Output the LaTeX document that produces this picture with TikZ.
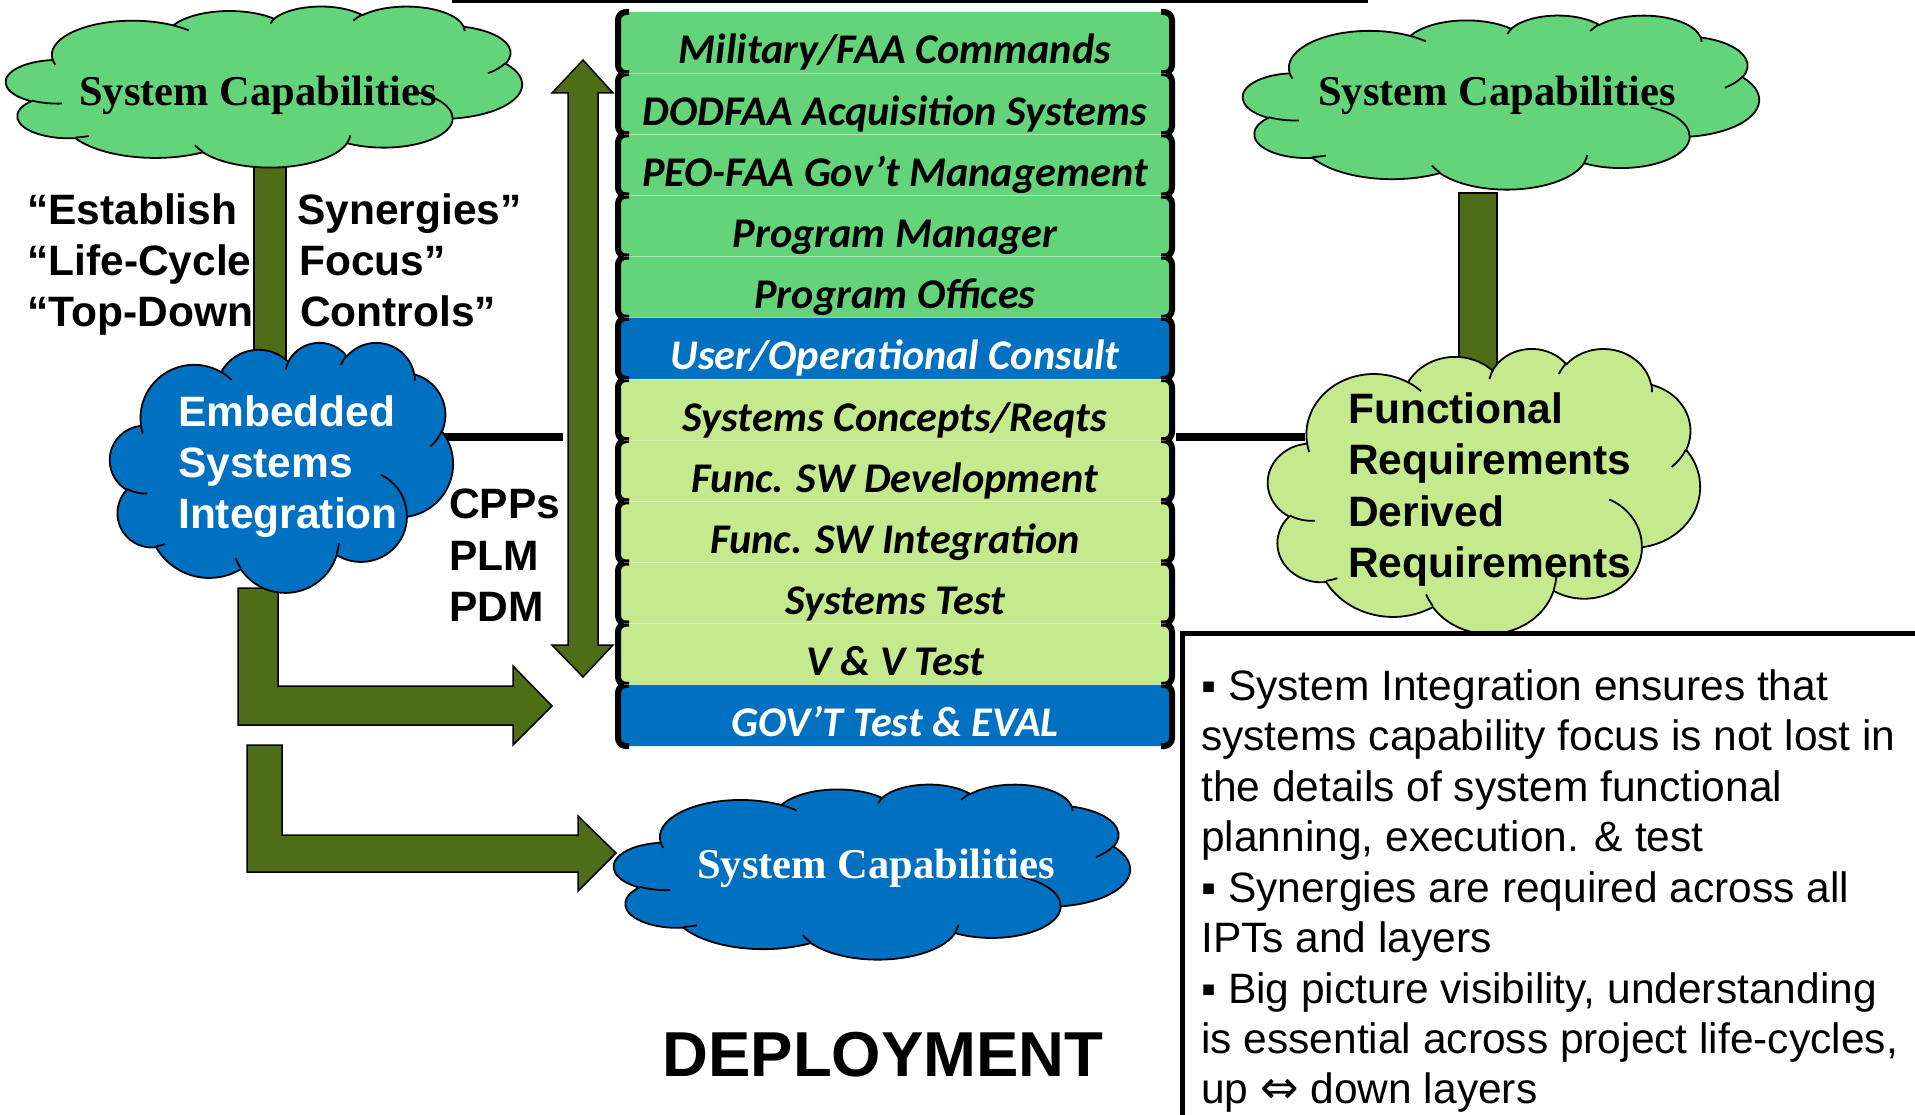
\documentclass[tikz,border=0pt]{standalone}
\usepackage{fontspec}
\setmainfont{Liberation Sans}
\newfontfamily\capfont{Liberation Serif}
\newfontfamily\rowfont{Carlito}
\newfontfamily\symfont{DejaVu Sans}

\definecolor{capgreen}{RGB}{100,212,122}
\definecolor{reqgreen}{RGB}{197,234,142}
\definecolor{sysblue}{RGB}{0,112,192}
\definecolor{olivearrow}{RGB}{79,108,22}

% Elliptic arc of the cloud outline: visual start angle / sweep -> parametric
\newcommand\ooprep[5]{%
  \pgfmathsetmacro\ooTmpS{atan2((#2)*sin(#4),(#3)*cos(#4))}%
  \pgfmathsetmacro\ooTmpE{atan2((#2)*sin((#4)+(#5)),(#3)*cos((#4)+(#5)))}%
  \pgfmathsetmacro\ooTmpD{mod((\ooTmpE)-(\ooTmpS)+720,360)}%
  \expandafter\xdef\csname ooS#1\endcsname{\ooTmpS}%
  \expandafter\xdef\csname ooD#1\endcsname{\ooTmpD}%
}
% outline puffs
\ooprep{a}{67.53}{91.90}{-190.4875}{123.7805}
\ooprep{b}{53.33}{72.67}{-144.1024}{89.9452}
\ooprep{c}{43.65}{59.45}{-145.8079}{99.7230}
\ooprep{d}{48.57}{65.95}{-130.9861}{117.2417}
\ooprep{e}{53.33}{72.73}{-78.7089}{109.0269}
\ooprep{f}{67.75}{92.20}{-46.2673}{130.2690}
\ooprep{g}{57.85}{78.67}{0.6250}{114.0333}
\ooprep{h}{67.52}{92.15}{22.4516}{115.1726}
\ooprep{i}{77.20}{105.43}{66.2426}{75.7110}
\ooprep{j}{43.60}{59.18}{-274.9421}{146.7356}
\ooprep{k}{43.45}{59.45}{-246.8285}{152.5189}
% inner puff edges
\ooprep{A}{43.45}{59.45}{86.7420}{26.4295}
\ooprep{B}{43.60}{59.18}{73.6105}{11.4475}
\ooprep{C}{67.52}{92.15}{137.6242}{14.0811}
\ooprep{D}{67.52}{92.15}{6.4533}{15.9984}
\ooprep{E}{57.85}{78.67}{-70.2924}{70.9174}
\ooprep{F}{53.33}{72.73}{30.3180}{27.7515}
\ooprep{G}{48.57}{65.95}{-13.7443}{14.8589}
\ooprep{H}{48.57}{65.95}{-149.1815}{18.1954}
\ooprep{I}{43.65}{59.45}{-163.4943}{17.6864}
\ooprep{J}{67.53}{91.90}{-66.7070}{12.3194}
\ooprep{K}{67.53}{91.90}{157.6544}{11.8605}

% cloud in a 432 x 432 frame, placed at (#2,#3) with size #4 x #5
\newcommand\drawcloud[6]{%
  \begin{scope}[shift={(#2,#3)}, xscale=#4/432, yscale=#5/432]
    \path[draw=black, line width=1.8, fill=#6, line join=round]
      (39.00,143.70)
      arc[start angle=\ooSa, delta angle=\ooDa, x radius=67.53, y radius=91.90]
      arc[start angle=\ooSb, delta angle=\ooDb, x radius=53.33, y radius=72.67]
      arc[start angle=\ooSc, delta angle=\ooDc, x radius=43.65, y radius=59.45]
      arc[start angle=\ooSd, delta angle=\ooDd, x radius=48.57, y radius=65.95]
      arc[start angle=\ooSe, delta angle=\ooDe, x radius=53.33, y radius=72.73]
      arc[start angle=\ooSf, delta angle=\ooDf, x radius=67.75, y radius=92.20]
      arc[start angle=\ooSg, delta angle=\ooDg, x radius=57.85, y radius=78.67]
      arc[start angle=\ooSh, delta angle=\ooDh, x radius=67.52, y radius=92.15]
      arc[start angle=\ooSi, delta angle=\ooDi, x radius=77.20, y radius=105.43]
      arc[start angle=\ooSj, delta angle=\ooDj, x radius=43.60, y radius=59.18]
      arc[start angle=\ooSk, delta angle=\ooDk, x radius=43.45, y radius=59.45]
      -- cycle;
    \path[draw=black, line width=1.8]
      (46.93,261.77) arc[start angle=\ooSA, delta angle=\ooDA, x radius=43.45, y radius=59.45]
      (69.28,348.99) arc[start angle=\ooSB, delta angle=\ooDB, x radius=43.60, y radius=59.18]
      (164.78,390.90) arc[start angle=\ooSC, delta angle=\ooDC, x radius=67.52, y radius=92.15]
      (288.27,347.51) arc[start angle=\ooSD, delta angle=\ooDD, x radius=67.52, y radius=92.15]
      (341.29,229.54) arc[start angle=\ooSE, delta angle=\ooDE, x radius=57.85, y radius=78.67]
      (417.98,153.54) arc[start angle=\ooSF, delta angle=\ooDF, x radius=53.33, y radius=72.73]
      (383.24,54.26) arc[start angle=\ooSG, delta angle=\ooDG, x radius=48.57, y radius=65.95]
      (290.78,39.52) arc[start angle=\ooSH, delta angle=\ooDH, x radius=48.57, y radius=65.95]
      (221.41,47.20) arc[start angle=\ooSI, delta angle=\ooDI, x radius=43.65, y radius=59.45]
      (140.00,51.92) arc[start angle=\ooSJ, delta angle=\ooDJ, x radius=67.53, y radius=91.90]
      (41.27,157.89) arc[start angle=\ooSK, delta angle=\ooDK, x radius=67.53, y radius=91.90];
    \coordinate (#1) at (216,216);
  \end{scope}}

% one layer of the central stack
\newcommand\stackrow[4]{%
  \pgfmathsetmacro\rowT{12+61.17*#1}%
  \pgfmathsetmacro\rowB{73.17+61.17*#1}%
  \fill[#2, rounded corners=6] (619,\rowT) rectangle (1171,\rowB);
  \draw[bracket] (629,\rowT) -- (618,\rowT) -- (618,\rowB) -- (629,\rowB);
  \draw[bracket] (1161,\rowT) -- (1172,\rowT) -- (1172,\rowB) -- (1161,\rowB);
  \node[rowtext, text=#3] (row#1) at (895,\rowT+52) {#4};
}

\tikzset{
  lbl/.style={anchor=base west, inner sep=0, font=\bfseries\fontsize{42.5}{51}\selectfont},
  body/.style={anchor=base west, inner sep=0, font=\fontsize{42.5}{51}\selectfont},
  captxt/.style={anchor=base, inner sep=0, font=\capfont\bfseries\fontsize{42.5}{51}\selectfont},
  rowtext/.style={anchor=base, inner sep=0, font=\rowfont\bfseries\itshape\fontsize{42.3}{50}\selectfont},
  bracket/.style={line width=6, rounded corners=8},
  trunk/.style={draw=black, line width=1.5, fill=olivearrow},
  bigarrow/.style={draw=black, line width=1.5, fill=olivearrow, line join=miter},
  link/.style={line width=8.5},
}

\begin{document}
\begin{tikzpicture}[x=1pt, y=-1pt]
\useasboundingbox (0,0) rectangle (1915,1115);
\fill[white] (0,0) rectangle (1915,1115);

% rule along the top edge
\coordinate (ruleL) at (452,1.5);
\coordinate (ruleR) at (1368,1.5);
\draw[line width=3] (ruleL) -- (ruleR);

% trunks joining the capability clouds to the clouds below
\draw[trunk] (254,160) rectangle (286,370);
\draw[trunk] (1459,193) rectangle (1497,372);

% links from the side clouds to the stack
\coordinate (linkLa) at (400,437);
\coordinate (linkLb) at (563,437);
\coordinate (linkRa) at (1176,437);
\coordinate (linkRb) at (1305,437);
\draw[link] (linkLa) -- (linkLb);
\draw[link] (linkRa) -- (linkRb);

% flow arrows out of the integration cloud
\draw[bigarrow] (238,588) -- (278,588) -- (278,686) -- (513,686) -- (513,666)
  -- (552,706) -- (513,745) -- (513,725) -- (238,725) -- cycle;
\draw[bigarrow] (247,745) -- (282,745) -- (282,835) -- (578,835) -- (578,816)
  -- (616,853) -- (578,891) -- (578,872) -- (247,872) -- cycle;

% clouds
\drawcloud{capL}{6}{6}{516}{161}{capgreen}
\drawcloud{capR}{1243}{15}{516}{174}{capgreen}
\drawcloud{esi}{110}{342}{343}{250}{sysblue}
\drawcloud{freq}{1268}{348}{432}{285}{reqgreen}
\drawcloud{capB}{614}{784}{516}{175}{sysblue}

% up/down arrow beside the stack
\draw[bigarrow] (583,60) -- (613,93) -- (598,93) -- (598,645) -- (613,645)
  -- (583,677) -- (552,645) -- (568,645) -- (568,93) -- (552,93) -- cycle;

% layered stack
\stackrow{0}{capgreen}{black}{Military/FAA Commands}
\stackrow{1}{capgreen}{black}{DODFAA Acquisition Systems}
\stackrow{2}{capgreen}{black}{PEO-FAA Gov’t Management}
\stackrow{3}{capgreen}{black}{Program Manager}
\stackrow{4}{capgreen}{black}{Program Offices}
\stackrow{5}{sysblue}{white}{User/Operational Consult}
\stackrow{6}{reqgreen}{black}{Systems Concepts/Reqts}
\stackrow{7}{reqgreen}{black}{Func. SW Development}
\stackrow{8}{reqgreen}{black}{Func. SW Integration}
\stackrow{9}{reqgreen}{black}{Systems Test}
\stackrow{10}{reqgreen}{black}{V \& V Test}
\stackrow{11}{sysblue}{white}{GOV’T Test \& EVAL}
\foreach \k in {1,...,11}
  \draw[white, opacity=.35, line width=1] (624,12+61.17*\k) -- (1166,12+61.17*\k);

% notes frame
\coordinate (boxTR) at (1925,633);
\coordinate (boxTL) at (1182,633);
\coordinate (boxBL) at (1182,1125);
\draw[line width=5] (boxTR) -- (boxTL) -- (boxBL);

% cloud captions
\node[captxt] (capLt) at (258,106) {System Capabilities};
\node[captxt] (capRt) at (1497,106) {System Capabilities};
\node[captxt, text=white] (capBt) at (876,878) {System Capabilities};

% quotes beside the left trunk
\node[lbl] (q1a) at (27,225) {“Establish};
\node[lbl] (q2a) at (27,276) {“Life-Cycle};
\node[lbl] (q3a) at (27,327) {“Top-Down};
\node[lbl] (q1b) at (297,225) {Synergies”};
\node[lbl] (q2b) at (299,276) {Focus”};
\node[lbl] (q3b) at (300,327) {Controls”};

% integration cloud text
\node[lbl, text=white] (esi1) at (178,426) {Embedded};
\node[lbl, text=white] (esi2) at (178,477) {Systems};
\node[lbl, text=white] (esi3) at (178,528) {Integration};

% tools
\node[lbl] (cpp) at (449,518) {CPPs};
\node[lbl] (plm) at (449,570) {PLM};
\node[lbl] (pdm) at (449,621) {PDM};

% requirements cloud text
\node[lbl] (fr1) at (1348,423) {Functional};
\node[lbl] (fr2) at (1348,474) {Requirements};
\node[lbl] (fr3) at (1348,526) {Derived};
\node[lbl] (fr4) at (1348,577) {Requirements};

% notes
\node[body] (n1) at (1201,700) {▪ System Integration ensures that};
\node[body] (n2) at (1201,750.5) {systems capability focus is not lost in};
\node[body] (n3) at (1201,801) {the details of system functional};
\node[body] (n4) at (1201,851.5) {planning, execution. \& test};
\node[body] (n5) at (1201,902) {▪ Synergies are required across all};
\node[body] (n6) at (1201,952.5) {IPTs and layers};
\node[body] (n7) at (1201,1003) {▪ Big picture visibility, understanding};
\node[body] (n8) at (1201,1053.5) {is essential across project life-cycles,};
\node[body] (n9) at (1201,1103.5) {up {\symfont\fontsize{46}{46}\selectfont ⇔} down layers};

% title
\node[anchor=base, inner sep=0, font=\bfseries\fontsize{63.5}{70}\selectfont] (dep) at (883,1076) {DEPLOYMENT};
\end{tikzpicture}
\end{document}
